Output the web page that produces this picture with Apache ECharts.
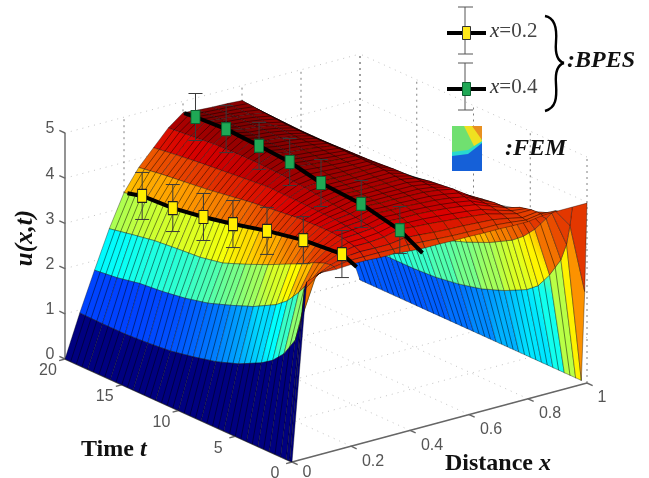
<!DOCTYPE html>
<html><head><meta charset="utf-8">
<style>html,body{margin:0;padding:0;background:#fff}#c{width:649px;height:478px}</style>
<script src="https://cdn.jsdelivr.net/npm/echarts@6/dist/echarts.min.js"></script>
</head><body><div id="c"></div>
<script>
// ---------- data ----------
const xTicks = [0, 0.2, 0.4, 0.6, 0.8, 1];
const xTickLabels = ['0', '0.2', '0.4', '0.6', '0.8', '1'];
const tTicks = [0, 5, 10, 15, 20];
const tTickLabels = ['0', '5', '10', '15', '20'];
const uTicks = [0, 1, 2, 3, 4, 5];
const uTickLabels = ['0', '1', '2', '3', '4', '5'];

const tRows = [0, 0.2, 0.5, 1, 2, 3, 4, 6, 8, 10, 12, 14, 16, 18, 20];
const xCols = [0, .05, .1, .15, .2, .25, .3, .35, .4, .45, .5, .55, .6, .65, .7, .75, .8, .85, .9, .95, 1];
// FEM surface: one line per x column, one value per t row
const femU = [
 [0,0,0,0,0,0,0,0,0,0,0,0,0,0,0],
 [3.9,3.7,3.0,2.5,2.08,1.82,1.65,1.4,1.22,1.1,1.0,.95,.92,.92,.93],
 [4.02,3.97,3.88,3.7,3.35,3.05,2.85,2.58,2.38,2.2,2.08,2.0,1.95,1.85,1.79],
 [4.0,4.03,4.04,4.02,3.92,3.78,3.66,3.42,3.2,3.0,2.9,2.86,2.81,2.72,2.62],
 [4.02,4.08,4.13,4.16,4.15,4.12,4.09,4.0,3.88,3.75,3.65,3.55,3.47,3.44,3.33],
 [4.02,4.08,4.16,4.22,4.28,4.3,4.3,4.28,4.22,4.16,4.08,4.0,3.94,3.88,3.8],
 [4.0,4.08,4.15,4.22,4.3,4.35,4.38,4.4,4.42,4.43,4.38,4.33,4.28,4.22,4.15],
 [4.0,4.07,4.15,4.25,4.33,4.38,4.42,4.48,4.55,4.6,4.62,4.62,4.6,4.55,4.5],
 [3.97,4.08,4.2,4.33,4.4,4.46,4.5,4.54,4.58,4.7,4.75,4.8,4.82,4.78,4.75],
 [3.95,4.06,4.18,4.3,4.38,4.44,4.48,4.52,4.58,4.66,4.7,4.73,4.75,4.75,4.72],
 [3.95,4.04,4.15,4.28,4.38,4.44,4.48,4.52,4.57,4.63,4.67,4.7,4.72,4.72,4.7],
 [3.94,4.02,4.13,4.25,4.36,4.42,4.47,4.52,4.57,4.6,4.63,4.65,4.66,4.68,4.69],
 [3.94,4.01,4.12,4.22,4.33,4.4,4.46,4.52,4.57,4.58,4.58,4.57,4.58,4.62,4.67],
 [3.93,4.0,4.1,4.19,4.29,4.36,4.42,4.46,4.44,4.4,4.38,4.36,4.36,4.38,4.4],
 [3.93,4.0,4.08,4.15,4.24,4.3,4.36,4.3,4.2,4.12,4.12,4.11,4.09,4.06,4.02],
 [3.92,3.97,4.02,4.06,4.12,4.14,4.14,4.06,3.95,3.85,3.85,3.85,3.85,3.82,3.75],
 [3.92,3.93,3.95,3.98,4.0,4.0,3.96,3.85,3.72,3.6,3.55,3.5,3.46,3.42,3.35],
 [3.97,3.98,3.99,3.98,3.92,3.78,3.65,3.38,3.15,3.0,2.9,2.86,2.8,2.72,2.62],
 [3.98,3.96,3.88,3.7,3.35,3.08,2.88,2.6,2.38,2.2,2.08,2.0,1.95,1.88,1.8],
 [3.98,3.55,3.1,2.7,2.25,1.9,1.7,1.45,1.26,1.14,1.06,1.03,1.03,1.03,1.05],
 [3.98,2.0,0,0,0,0,0,0,0,0,0,0,0,0,0]
];

// BPES measurements
const bpesT02 = [18.4, 15.7, 13.0, 10.4, 7.4, 4.2, 0.8];
const bpesU02 = [3.44, 3.48, 3.59, 3.73, 3.92, 4.08, 4.16];
const bpesT04 = [18.9, 16.2, 13.3, 10.6, 7.84, 4.3, 0.9];
const bpesU04 = [4.78, 4.82, 4.78, 4.73, 4.58, 4.52, 4.33];
const lineT02 = [19.7, 18.4, 15.7, 13.0, 10.4, 7.4, 4.2, 0.8, -0.5];
const lineU02 = [3.35, 3.44, 3.48, 3.59, 3.73, 3.92, 4.08, 4.16, 4.02];
const lineT04 = [19.9, 18.9, 16.2, 13.3, 10.6, 7.84, 4.3, 0.9, -1.1];
const lineU04 = [4.75, 4.78, 4.82, 4.78, 4.73, 4.58, 4.52, 4.33, 4.05];
const bpesErr = 0.52;

// ---------- view of the 3-D box on the page plane ----------
function project(x, t, u) {
  return [292 + 295 * x - 11.35 * t, 462 - 79 * x - 5.15 * t - 45.2 * u];
}
const uColorMax = 4.85;
function jet(u) {
  const v = Math.max(0, Math.min(1, u / uColorMax));
  const c = f => Math.round(255 * Math.max(0, Math.min(1, f)));
  const dim = 1 - 0.14 * Math.max(0, Math.min(1, (v - 0.72) / 0.13));
  return 'rgb(' + c(Math.min(1, 1.5 - Math.abs(4 * v - 3)) * dim) + ',' + c(1.5 - Math.abs(4 * v - 2)) + ',' + c(1.5 - Math.abs(4 * v - 1)) + ')';
}

// ---------- helpers ----------
function segSeries(segs, style, z) {
  return {
    type: 'custom', coordinateSystem: 'cartesian2d', silent: true, z, clip: false,
    data: segs.map((s, i) => [i, i]),
    renderItem(params, api) {
      const s = segs[params.dataIndex];
      const a = api.coord(project(s[0], s[1], s[2]));
      const b = api.coord(project(s[3], s[4], s[5]));
      return { type: 'line', shape: { x1: a[0], y1: a[1], x2: b[0], y2: b[1] }, style };
    }
  };
}
const gridSegs = [];
const wallPostSegs = [];
xTicks.forEach(x => {
  if (x > 0) wallPostSegs.push([x, 20, 0, x, 20, 5]);
  gridSegs.push([x, 0, 0, x, 20, 0]);
});
tTicks.forEach(t => {
  wallPostSegs.push([1, t, 0, 1, t, 5]);
  gridSegs.push([0, t, 0, 1, t, 0]);
});
uTicks.forEach(u => {
  gridSegs.push([0, 20, u, 1, 20, u]);
  gridSegs.push([1, 0, u, 1, 20, u]);
});
const axisSegs = [[0, 20, 0, 0, 20, 5], [0, 0, 0, 1, 0, 0], [0, 0, 0, 0, 20, 0]];
uTicks.forEach(u => axisSegs.push([0, 20, u, 0, 20.5, u]));
xTicks.forEach(x => axisSegs.push([x, 0, 0, x, -0.5, 0]));
tTicks.forEach(t => axisSegs.push([0, t, 0, -0.02, t, 0]));

// painter's order: far columns first, far rows first
const cells = [];
for (let k = xCols.length - 2; k >= 0; k--)
  for (let j = tRows.length - 2; j >= 0; j--) cells.push([k, j]);

function surfaceItem(params, api) {
  const k = cells[params.dataIndex][0], j = cells[params.dataIndex][1];
  const P = (kk, jj) => api.coord(project(xCols[kk], tRows[jj], femU[kk][jj]));
  const a = P(k, j), b = P(k + 1, j), c = P(k + 1, j + 1), d = P(k, j + 1);
  const dt = tRows[j + 1] - tRows[j];
  let fill = jet(femU[k][j]);
  if (dt >= 1 && j >= 4) {
    fill = new echarts.graphic.LinearGradient(a[0], a[1], d[0], d[1], [
      { offset: 0, color: jet(femU[k][j]) },
      { offset: 1, color: jet(femU[k][j + 1]) }
    ], true);
  }
  const children = [{
    type: 'polygon', shape: { points: [a, b, c, d] },
    style: { fill, stroke: 'rgba(0,0,0,0.5)', lineWidth: 0.7 }
  }];
  const steps = Math.round(dt / 0.5);
  for (let h = 1; h < steps; h++) {
    const f = h / steps;
    children.push({
      type: 'line',
      shape: { x1: a[0] + (d[0] - a[0]) * f, y1: a[1] + (d[1] - a[1]) * f, x2: b[0] + (c[0] - b[0]) * f, y2: b[1] + (c[1] - b[1]) * f },
      style: { stroke: 'rgba(0,0,0,0.6)', lineWidth: 0.8 }
    });
  }
  return { type: 'group', children };
}

function errSeries(x, ts, us, z) {
  return {
    type: 'custom', coordinateSystem: 'cartesian2d', silent: true, z, clip: false,
    data: ts.map((t, i) => [i, i]),
    renderItem(params, api) {
      const i = params.dataIndex;
      const hi = api.coord(project(x, ts[i], us[i] + bpesErr));
      const lo = api.coord(project(x, ts[i], us[i] - bpesErr));
      const st = { stroke: '#3a3a3a', lineWidth: 1 };
      return { type: 'group', children: [
        { type: 'line', shape: { x1: hi[0], y1: hi[1], x2: lo[0], y2: lo[1] }, style: st },
        { type: 'line', shape: { x1: hi[0] - 7, y1: hi[1], x2: hi[0] + 7, y2: hi[1] }, style: st },
        { type: 'line', shape: { x1: lo[0] - 7, y1: lo[1], x2: lo[0] + 7, y2: lo[1] }, style: st }
      ] };
    }
  };
}
function lineSeries(x, ts, us) {
  return { type: 'line', z: 6, silent: true, symbol: 'none', clip: false, animation: false,
    data: ts.map((t, i) => project(x, t, us[i])),
    lineStyle: { color: '#000', width: 4 } };
}
function markerSeries(x, ts, us, color, border) {
  return { type: 'scatter', z: 7, silent: true, symbol: 'rect', symbolSize: [9, 13], clip: false,
    data: ts.map((t, i) => project(x, t, us[i])),
    itemStyle: { color, borderColor: border, borderWidth: 1, opacity: 1 } };
}
function tickLabels(items, z) {
  return {
    type: 'custom', coordinateSystem: 'cartesian2d', silent: true, z, clip: false,
    data: items.map((s, i) => [i, i]),
    renderItem(params, api) {
      const it = items[params.dataIndex];
      const p = api.coord(project(it.x, it.t, it.u));
      return { type: 'text', x: p[0] + it.dx, y: p[1] + it.dy,
        style: { text: it.text, fill: '#555', font: '16px "Liberation Sans", Arial, sans-serif', textAlign: 'center', textVerticalAlign: 'middle' } };
    }
  };
}
const labelItems = [];
uTicks.forEach((u, i) => labelItems.push({ x: 0, t: 20, u, dx: -15, dy: -4, text: uTickLabels[i] }));
tTicks.forEach((t, i) => labelItems.push({ x: 0, t, u: 0, dx: -17, dy: 12, text: tTickLabels[i] }));
xTicks.forEach((x, i) => labelItems.push({ x, t: 0, u: 0, dx: xTickLabels[i].length > 1 ? 22 : 15, dy: x === 0 ? 11 : 15, text: xTickLabels[i] }));

// ---------- legend pieces ----------
const serifBI = 'italic bold 24px "Liberation Serif", "Times New Roman", serif';
function legendEntry(y, color, border, label) {
  const grey = { stroke: '#555', lineWidth: 1 };
  return [
    { type: 'line', z: 20, shape: { x1: 465, y1: y - 26, x2: 465, y2: y + 21 }, style: grey },
    { type: 'line', z: 20, shape: { x1: 458, y1: y - 26, x2: 473, y2: y - 26 }, style: grey },
    { type: 'line', z: 20, shape: { x1: 458, y1: y + 21, x2: 473, y2: y + 21 }, style: grey },
    { type: 'line', z: 21, shape: { x1: 447, y1: y, x2: 486, y2: y }, style: { stroke: '#000', lineWidth: 4 } },
    { type: 'rect', z: 22, shape: { x: 462.5, y: y - 6.5, width: 8, height: 13 }, style: { fill: color, stroke: border, lineWidth: 1 } },
    { type: 'text', z: 22, x: 490, y: y - 12, style: {
      text: '{i|x}{n|=' + label + '}',
      rich: {
        i: { font: 'italic 21px "Liberation Serif", serif', fill: '#333' },
        n: { font: '21px "Liberation Serif", serif', fill: '#444' }
      } } }
  ];
}
const braceStyle = { stroke: '#000', lineWidth: 2.4, fill: 'none' };
const brace = [
  { x1: 545, y1: 16, cpx1: 556, cpy1: 18, cpx2: 557, cpy2: 30, x2: 556, y2: 42 },
  { x1: 556, y1: 42, cpx1: 555, cpy1: 54, cpx2: 557, cpy2: 61, x2: 564, y2: 63 },
  { x1: 564, y1: 63, cpx1: 557, cpy1: 65, cpx2: 555, cpy2: 72, x2: 556, y2: 84 },
  { x1: 556, y1: 84, cpx1: 557, cpy1: 98, cpx2: 556, cpy2: 108, x2: 545, y2: 111 }
].map(shape => ({ type: 'bezierCurve', z: 22, shape, style: braceStyle }));

const iconBands = [
  { pts: [[452,126],[482,126],[482,171],[452,171]], fill: '#1560d8' },
  { pts: [[452,126],[482,126],[482,143],[468,154],[452,156]], fill: '#28d8d0' },
  { pts: [[452,126],[476,126],[482,141],[468,150],[452,152]], fill: '#70e070' },
  { pts: [[464,126],[476,126],[482,141],[474,146]], fill: '#f0e020' },
  { pts: [[472,126],[482,126],[482,140]], fill: '#e89020' }
].map(b => ({ type: 'polygon', z: 22, shape: { points: b.pts }, style: { fill: b.fill } }));

const titleFontB = 'bold 24px "Liberation Serif", serif';
const titleFontI = 'italic bold 24px "Liberation Serif", serif';
const chart = echarts.init(document.getElementById('c'), null, { renderer: 'canvas' });
chart.setOption({
  animation: false,
  backgroundColor: '#fff',
  grid: { left: 0, right: 0, top: 0, bottom: 0 },
  xAxis: { type: 'value', min: 0, max: 649, show: false },
  yAxis: { type: 'value', min: 0, max: 478, inverse: true, show: false },
  series: [
    segSeries(gridSegs, { stroke: '#c4c4c4', lineWidth: 1, lineDash: [1, 5] }, 1),
    segSeries(wallPostSegs, { stroke: '#808080', lineWidth: 1, lineDash: [2, 4] }, 1),
    segSeries(axisSegs, { stroke: '#666', lineWidth: 1.4 }, 2),
    { type: 'custom', coordinateSystem: 'cartesian2d', silent: true, z: 3, clip: false,
      data: cells.map(c => [c[0], c[1]]), renderItem: surfaceItem },
    errSeries(0.2, bpesT02, bpesU02, 5),
    errSeries(0.4, bpesT04, bpesU04, 5),
    lineSeries(0.2, lineT02, lineU02),
    lineSeries(0.4, lineT04, lineU04),
    markerSeries(0.2, bpesT02, bpesU02, '#ffee00', '#222'),
    markerSeries(0.4, bpesT04, bpesU04, '#1fa855', '#0d6030'),
    tickLabels(labelItems, 8)
  ],
  graphic: { elements: [
    ...legendEntry(33, '#ffe81a', '#333', '0.2'),
    ...legendEntry(89, '#1fa855', '#0d6030', '0.4'),
    ...brace,
    ...iconBands,
    { type: 'text', z: 22, x: 567, y: 49, style: { text: ':BPES', font: serifBI, fill: '#111' } },
    { type: 'text', z: 22, x: 505, y: 137, style: { text: ':FEM', font: serifBI, fill: '#111' } },
    { type: 'text', z: 22, x: 26, y: 238, rotation: Math.PI / 2, style: {
      text: 'u(x,t)', font: 'italic bold 25px "Liberation Serif", serif', fill: '#111', textAlign: 'center', textVerticalAlign: 'middle' } },
    { type: 'text', z: 22, x: 81, y: 438, style: {
      text: '{b|Time }{i|t}',
      rich: { b: { font: titleFontB, fill: '#111' }, i: { font: titleFontI, fill: '#111' } } } },
    { type: 'text', z: 22, x: 445, y: 452, style: {
      text: '{b|Distance }{i|x}',
      rich: { b: { font: titleFontB, fill: '#111' }, i: { font: titleFontI, fill: '#111' } } } }
  ] }
});
</script></body></html>
